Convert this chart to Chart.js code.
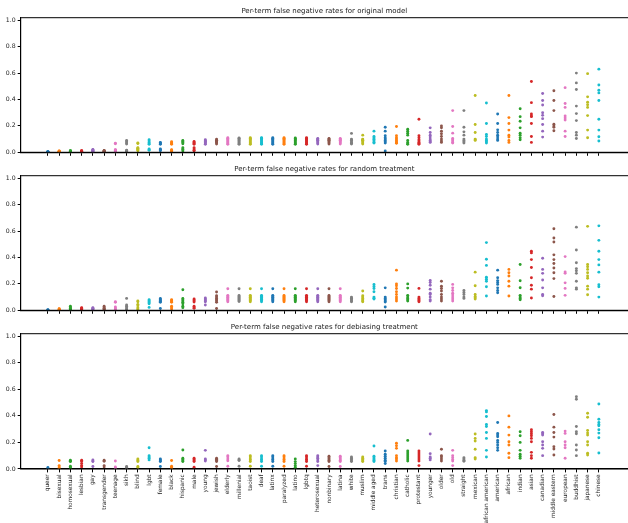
<!DOCTYPE html>
<html>
<head>
<meta charset="utf-8">
<script src="https://cdn.jsdelivr.net/npm/chart.js@4/dist/chart.umd.min.js"></script>
<style>
  body { margin: 0; background: #fff; width: 628px; height: 523px; overflow: hidden; position: relative; }
  .panel { position: absolute; left: 0; width: 640px; }
</style>
</head>
<body>
<div class="panel" style="top:0;height:158px"><canvas id="c0"></canvas></div>
<div class="panel" style="top:158px;height:158px"><canvas id="c1"></canvas></div>
<div class="panel" style="top:316px;height:207px"><canvas id="c2"></canvas></div>
<script>
const categories = ["queer", "bisexual", "homosexual", "lesbian", "gay", "transgender", "teenage", "sikh", "blind", "lgbt",
  "female", "black", "hispanic", "male", "young", "jewish", "elderly", "millenial", "taoist", "deaf",
  "latinx", "paralyzed", "latino", "lgbtq", "heterosexual", "nonbinary", "latina", "white", "muslim", "middle aged",
  "trans", "christian", "catholic", "protestant", "younger", "older", "old", "straight", "mexican", "african american",
  "american", "african", "indian", "asian", "canadian", "middle eastern", "european", "buddhist", "japanese", "chinese"];

const titles = [
  "Per-term false negative rates for original model",
  "Per-term false negative rates for random treatment",
  "Per-term false negative rates for debiasing treatment"
];

const yTicks = [0, 0.2, 0.4, 0.6, 0.8, 1.0];

// one list of rates per term, same order as categories
const originalRates = [
  [0, 0, 0.002, 0.003, 0.005, 0.001, 0.004],
  [0, 0.005, 0.008, 0.01, 0.003, 0.006, 0.009],
  [0, 0.004, 0.008, 0.012, 0.01, 0.006, 0.002, 0.011],
  [0, 0.005, 0.01, 0.012, 0.003, 0.008, 0.006, 0.011],
  [0, 0.006, 0.012, 0.018, 0.022, 0.01, 0.015, 0.004],
  [0, 0.004, 0.008, 0.014, 0.012, 0.006, 0.01, 0.002],
  [0.068, 0.065, 0.02, 0.015, 0.005, 0.018, 0.002, 0.01],
  [0.09, 0.08, 0.07, 0.062, 0.012, 0.005, 0.015, 0.01],
  [0.07, 0.066, 0.035, 0.025, 0.018, 0.012, 0.03, 0.02],
  [0.095, 0.085, 0.075, 0.065, 0.06, 0.025, 0.015, 0.02],
  [0.075, 0.07, 0.065, 0.06, 0.025, 0.012, 0.018, 0.02],
  [0.08, 0.072, 0.066, 0.06, 0.02, 0.01, 0.005, 0.015],
  [0.09, 0.082, 0.075, 0.065, 0.035, 0.025, 0.01, 0.02],
  [0.082, 0.075, 0.068, 0.06, 0.035, 0.025, 0.015, 0.01],
  [0.095, 0.088, 0.08, 0.072, 0.065, 0.06, 0.085, 0.078],
  [0.1, 0.092, 0.085, 0.078, 0.07, 0.062, 0.09, 0.08],
  [0.11, 0.1, 0.095, 0.088, 0.08, 0.072, 0.065, 0.06, 0.105],
  [0.108, 0.1, 0.094, 0.087, 0.08, 0.072, 0.065, 0.06, 0.104],
  [0.11, 0.1, 0.095, 0.088, 0.08, 0.072, 0.065, 0.06, 0.105],
  [0.11, 0.101, 0.095, 0.088, 0.08, 0.072, 0.066, 0.06, 0.106],
  [0.11, 0.1, 0.095, 0.088, 0.08, 0.072, 0.065, 0.06, 0.105],
  [0.11, 0.1, 0.095, 0.087, 0.08, 0.073, 0.065, 0.06, 0.104],
  [0.108, 0.1, 0.094, 0.088, 0.08, 0.072, 0.065, 0.06, 0.103],
  [0.11, 0.1, 0.095, 0.088, 0.08, 0.072, 0.065, 0.06, 0.105],
  [0.105, 0.1, 0.092, 0.085, 0.078, 0.07, 0.062, 0.095],
  [0.105, 0.1, 0.092, 0.085, 0.078, 0.07, 0.062, 0.095],
  [0.105, 0.1, 0.092, 0.085, 0.078, 0.07, 0.062, 0.095],
  [0.143, 0.1, 0.092, 0.085, 0.075, 0.068, 0.062, 0.09],
  [0.13, 0.1, 0.095, 0.088, 0.08, 0.07, 0.062, 0.092],
  [0.16, 0.12, 0.11, 0.095, 0.085, 0.075, 0.07, 0.1],
  [0.19, 0.16, 0.125, 0.1, 0.09, 0.08, 0.07, 0.01, 0.11],
  [0.195, 0.125, 0.11, 0.1, 0.09, 0.08, 0.072, 0.068],
  [0.175, 0.16, 0.145, 0.13, 0.09, 0.075, 0.065, 0.06],
  [0.25, 0.125, 0.11, 0.095, 0.085, 0.075, 0.068, 0.06],
  [0.185, 0.15, 0.13, 0.115, 0.1, 0.09, 0.08, 0.075],
  [0.2, 0.185, 0.16, 0.14, 0.12, 0.1, 0.085, 0.075],
  [0.316, 0.195, 0.145, 0.105, 0.095, 0.085, 0.075, 0.07],
  [0.316, 0.19, 0.155, 0.13, 0.1, 0.09, 0.08, 0.07],
  [0.43, 0.21, 0.15, 0.1, 0.095, 0.09],
  [0.373, 0.218, 0.135, 0.12, 0.1, 0.09, 0.08, 0.07],
  [0.29, 0.218, 0.17, 0.15, 0.13, 0.115, 0.1, 0.09],
  [0.43, 0.263, 0.218, 0.168, 0.13, 0.115, 0.09, 0.075],
  [0.33, 0.27, 0.235, 0.185, 0.145, 0.13, 0.11, 0.095],
  [0.536, 0.376, 0.29, 0.275, 0.27, 0.218, 0.12, 0.075],
  [0.446, 0.393, 0.358, 0.3, 0.28, 0.255, 0.21, 0.16, 0.115],
  [0.466, 0.393, 0.316, 0.213, 0.2, 0.19, 0.163],
  [0.49, 0.37, 0.34, 0.275, 0.26, 0.245, 0.16, 0.12],
  [0.6, 0.526, 0.476, 0.35, 0.293, 0.24, 0.15, 0.13, 0.105],
  [0.596, 0.42, 0.38, 0.36, 0.34, 0.278, 0.168, 0.11],
  [0.63, 0.51, 0.47, 0.45, 0.393, 0.25, 0.168, 0.118, 0.085]
];

const randomRates = [
  [0.005, 0, 0.002],
  [0, 0.005, 0.01, 0.012, 0.003],
  [0, 0.01, 0.02, 0.03, 0.015, 0.005],
  [0, 0.008, 0.015, 0.02, 0.01],
  [0, 0.008, 0.015, 0.02, 0.012],
  [0, 0.01, 0.02, 0.03, 0.015, 0.005],
  [0.065, 0.06, 0.025, 0.018, 0.01, 0.005],
  [0.09, 0.04, 0.03, 0.02, 0.01, 0.002],
  [0.07, 0.065, 0.045, 0.035, 0.02, 0.01, 0.002],
  [0.08, 0.072, 0.065, 0.058, 0.05, 0.022],
  [0.09, 0.082, 0.075, 0.068, 0.06, 0.013],
  [0.08, 0.074, 0.066, 0.06, 0.03, 0.02, 0.01],
  [0.156, 0.09, 0.08, 0.07, 0.06, 0.05, 0.03, 0.02],
  [0.085, 0.078, 0.07, 0.062, 0.03, 0.02, 0.015],
  [0.093, 0.085, 0.078, 0.07, 0.065, 0.04],
  [0.138, 0.11, 0.1, 0.09, 0.08, 0.07, 0.06, 0.013],
  [0.163, 0.113, 0.105, 0.098, 0.09, 0.082, 0.075, 0.065],
  [0.163, 0.112, 0.104, 0.097, 0.09, 0.082, 0.075, 0.066],
  [0.163, 0.113, 0.105, 0.098, 0.09, 0.082, 0.075, 0.065],
  [0.163, 0.113, 0.106, 0.098, 0.09, 0.083, 0.075, 0.065],
  [0.163, 0.113, 0.105, 0.098, 0.09, 0.082, 0.075, 0.065],
  [0.163, 0.112, 0.105, 0.097, 0.09, 0.082, 0.074, 0.065],
  [0.163, 0.113, 0.105, 0.098, 0.09, 0.082, 0.075, 0.065],
  [0.163, 0.113, 0.104, 0.098, 0.09, 0.082, 0.075, 0.064],
  [0.163, 0.113, 0.105, 0.098, 0.09, 0.082, 0.075, 0.065],
  [0.163, 0.112, 0.105, 0.097, 0.09, 0.082, 0.075, 0.065],
  [0.163, 0.113, 0.105, 0.098, 0.09, 0.082, 0.075, 0.065],
  [0.1, 0.092, 0.085, 0.078, 0.07, 0.065],
  [0.146, 0.11, 0.1, 0.09, 0.08, 0.07, 0.065],
  [0.196, 0.18, 0.165, 0.14, 0.1, 0.092, 0.085],
  [0.17, 0.1, 0.09, 0.08, 0.07, 0.062, 0.025],
  [0.304, 0.2, 0.185, 0.165, 0.14, 0.12, 0.1, 0.085, 0.07],
  [0.2, 0.168, 0.113, 0.1, 0.09, 0.08, 0.07],
  [0.166, 0.1, 0.09, 0.08, 0.072, 0.065],
  [0.226, 0.21, 0.19, 0.16, 0.13, 0.12, 0.1, 0.08, 0.07],
  [0.22, 0.183, 0.165, 0.146, 0.12, 0.1, 0.085, 0.07],
  [0.196, 0.17, 0.15, 0.13, 0.115, 0.1, 0.085, 0.07],
  [0.15, 0.135, 0.12, 0.1, 0.09],
  [0.289, 0.186, 0.12, 0.105, 0.095, 0.085],
  [0.513, 0.387, 0.34, 0.25, 0.235, 0.22, 0.178, 0.108],
  [0.304, 0.246, 0.225, 0.21, 0.196, 0.17, 0.15, 0.133],
  [0.31, 0.285, 0.26, 0.22, 0.183, 0.108],
  [0.347, 0.224, 0.171, 0.113, 0.1, 0.09, 0.08],
  [0.447, 0.435, 0.384, 0.324, 0.246, 0.19, 0.16, 0.093],
  [0.394, 0.31, 0.28, 0.23, 0.17, 0.12, 0.11],
  [0.618, 0.548, 0.518, 0.42, 0.384, 0.354, 0.32, 0.284, 0.24, 0.105],
  [0.407, 0.29, 0.28, 0.208, 0.166, 0.113],
  [0.63, 0.457, 0.36, 0.316, 0.3, 0.28, 0.22, 0.17, 0.16],
  [0.636, 0.347, 0.33, 0.31, 0.284, 0.26, 0.243, 0.183, 0.16, 0.118],
  [0.64, 0.53, 0.447, 0.384, 0.344, 0.289, 0.193, 0.178, 0.1]
];

const debiasRates = [
  [0.01, 0, 0.003],
  [0.063, 0.025, 0.015, 0.005, 0],
  [0.065, 0.058, 0.055, 0.02, 0.01, 0.005],
  [0.065, 0.055, 0.04, 0.025, 0.015],
  [0.068, 0.06, 0.055, 0.018],
  [0.065, 0.058, 0.025, 0.015],
  [0.06, 0.015, 0.008, 0.004],
  [0.018, 0.012, 0.005, 0],
  [0.075, 0.065, 0.055, 0.018, 0.01],
  [0.16, 0.1, 0.09, 0.08, 0.068],
  [0.075, 0.068, 0.06, 0.055, 0.018],
  [0.063, 0.02, 0.01, 0.005],
  [0.143, 0.08, 0.07, 0.062, 0.055],
  [0.08, 0.07, 0.062, 0.055, 0.012],
  [0.14, 0.075, 0.068, 0.06],
  [0.08, 0.072, 0.065, 0.055, 0.018],
  [0.1, 0.09, 0.075, 0.062, 0.02],
  [0.075, 0.068, 0.063, 0.02],
  [0.1, 0.09, 0.075, 0.068, 0.055, 0.02],
  [0.1, 0.09, 0.075, 0.068, 0.055, 0.02],
  [0.1, 0.09, 0.075, 0.068, 0.055, 0.02],
  [0.1, 0.09, 0.075, 0.068, 0.055, 0.02],
  [0.075, 0.055, 0.04, 0.025, 0.012, 0],
  [0.1, 0.09, 0.075, 0.068, 0.055, 0.02],
  [0.1, 0.09, 0.08, 0.068, 0.055, 0.025],
  [0.095, 0.085, 0.075, 0.065, 0.055, 0.018],
  [0.095, 0.085, 0.075, 0.065, 0.055, 0.018],
  [0.09, 0.08, 0.07, 0.062, 0.055],
  [0.09, 0.08, 0.07, 0.062, 0.055],
  [0.173, 0.095, 0.085, 0.075, 0.065, 0.055],
  [0.135, 0.11, 0.095, 0.08, 0.065, 0.055, 0.04],
  [0.193, 0.175, 0.155, 0.1, 0.085, 0.075, 0.06],
  [0.215, 0.135, 0.12, 0.105, 0.09, 0.075, 0.06],
  [0.135, 0.12, 0.105, 0.09, 0.075, 0.06, 0.025],
  [0.263, 0.115, 0.09, 0.08, 0.068],
  [0.148, 0.1, 0.09, 0.075, 0.06],
  [0.14, 0.1, 0.085, 0.07, 0.06, 0.025],
  [0.085, 0.075, 0.065, 0.058],
  [0.263, 0.23, 0.21, 0.148, 0.085, 0.075],
  [0.44, 0.43, 0.395, 0.335, 0.32, 0.275, 0.23, 0.14, 0.09],
  [0.35, 0.268, 0.255, 0.243, 0.215, 0.2, 0.18, 0.16, 0.14],
  [0.4, 0.315, 0.255, 0.205, 0.18, 0.118, 0.085],
  [0.28, 0.25, 0.2, 0.14, 0.11, 0.095, 0.08],
  [0.295, 0.28, 0.265, 0.25, 0.23, 0.205, 0.125, 0.1, 0.08],
  [0.275, 0.265, 0.255, 0.205, 0.18, 0.155, 0.1],
  [0.41, 0.315, 0.275, 0.24, 0.168, 0.15, 0.105],
  [0.285, 0.268, 0.205, 0.18, 0.16, 0.08],
  [0.545, 0.525, 0.32, 0.28, 0.265, 0.18, 0.143, 0.1],
  [0.42, 0.39, 0.29, 0.27, 0.255, 0.205, 0.18, 0.118, 0.105],
  [0.49, 0.375, 0.35, 0.335, 0.325, 0.295, 0.27, 0.235, 0.12]
];

const palette = ["#1f77b4", "#ff7f0e", "#2ca02c", "#d62728", "#9467bd",
                 "#8c564b", "#e377c2", "#7f7f7f", "#bcbd22", "#17becf"];

// frame around the axes plus a title centred over the visible plot width
const framePlugin = {
  id: "frame",
  afterDraw(chart, args, opts) {
    const { ctx, chartArea: a } = chart;
    ctx.save();
    ctx.strokeStyle = "#000";
    ctx.lineWidth = 1;
    ctx.strokeRect(a.left, a.top, a.right - a.left, a.bottom - a.top);
    ctx.fillStyle = "#222";
    ctx.font = "7px 'DejaVu Sans'";
    ctx.textAlign = "center";
    ctx.textBaseline = "middle";
    ctx.fillText(opts.text, (a.left + 628) / 2, 11);
    ctx.restore();
  }
};

function makePanel(id, rates, title, showLabels) {
  const datasets = rates.map((vals, i) => ({
    label: categories[i],
    data: vals.map(v => ({ x: i, y: v })),
    backgroundColor: palette[i % 10],
    borderWidth: 0,
    pointRadius: 1.45,
    pointHoverRadius: 1.45
  }));

  new Chart(document.getElementById(id), {
    type: "scatter",
    data: { datasets },
    plugins: [framePlugin],
    options: {
      responsive: true,
      maintainAspectRatio: false,
      animation: false,
      events: [],
      layout: { padding: { top: 17.7, left: 0, right: 0, bottom: 0 } },
      plugins: {
        legend: { display: false },
        tooltip: { enabled: false },
        frame: { text: title }
      },
      scales: {
        x: {
          type: "linear",
          min: -2.42,
          max: 52.53,
          afterBuildTicks: s => { s.ticks = categories.map((c, i) => ({ value: i })); },
          afterFit: s => { s.height = showLabels ? 54.1 : 4.7; s.paddingLeft = 0; s.paddingRight = 0; },
          grid: { drawOnChartArea: false, drawTicks: true, tickLength: 3.5, color: "#000" },
          border: { color: "#000", width: 1.2 },
          ticks: {
            display: showLabels,
            autoSkip: false,
            minRotation: 90,
            maxRotation: 90,
            padding: 2,
            color: "#222",
            font: { family: "DejaVu Sans", size: 5.8 },
            callback: v => categories[v]
          }
        },
        y: {
          min: 0,
          max: 1.02,
          afterBuildTicks: s => { s.ticks = yTicks.map(v => ({ value: v })); },
          afterFit: s => { s.width = 20.7; },
          grid: { drawOnChartArea: false, drawTicks: true, tickLength: 3, color: "#000" },
          border: { color: "#000", width: 1 },
          ticks: {
            padding: 2,
            color: "#222",
            font: { family: "DejaVu Sans", size: 6.2 },
            callback: v => v.toFixed(1)
          }
        }
      }
    }
  });
}

makePanel("c0", originalRates, titles[0], false);
makePanel("c1", randomRates, titles[1], false);
makePanel("c2", debiasRates, titles[2], true);
</script>
</body>
</html>
